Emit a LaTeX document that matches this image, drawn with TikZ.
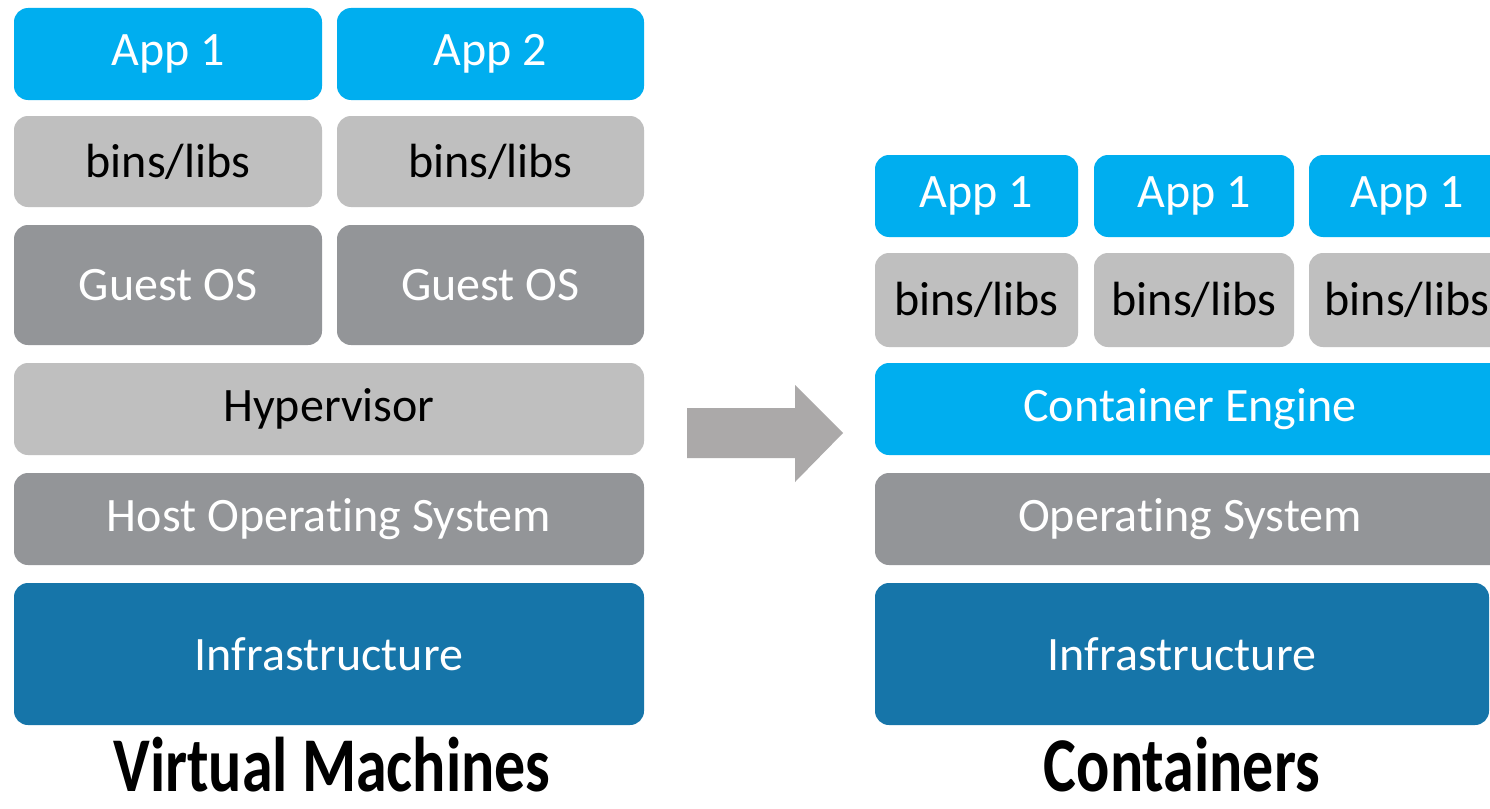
\documentclass[tikz,border=0pt]{standalone}
\usepackage{fontspec}
\setmainfont[RawFeature={-liga;-clig;-dlig;-calt}]{Carlito}
\usepackage{tikz}
\usetikzlibrary{positioning}

\definecolor{appblue}{RGB}{0,174,239}
\definecolor{infrablue}{RGB}{22,117,169}
\definecolor{libgray}{RGB}{191,191,191}
\definecolor{osgray}{RGB}{147,149,152}
\definecolor{arrowgray}{RGB}{171,169,169}

\begin{document}
\begin{tikzpicture}[x=1pt, y=-1pt,
    box/.style={rounded corners=14pt, inner sep=0pt, align=center,
      font=\fontsize{48}{56}\selectfont},
    app/.style={box, fill=appblue, text=white},
    lib/.style={box, fill=libgray, text=black},
    os/.style={box, fill=osgray, text=white},
    infra/.style={box, fill=infrablue, text=white},
    title/.style={font=\fontsize{62}{70}\selectfont\bfseries, inner sep=0pt, anchor=base}]
        \clip (0,0) rectangle (1490,808);
        \fill[white] (0,0) rectangle (1490,808);
        % virtual machines
        \begin{scope}
          \node[app, minimum width=308, minimum height=92] (app1) at (168,54) {App 1};
          \node[app, minimum width=307, minimum height=92] (app2) at (490.5,54) {App 2};
          \node[lib, minimum width=308, minimum height=91] (bins1) at (168,161.5) {bins/libs};
          \node[lib, minimum width=307, minimum height=91] (bins2) at (490.5,161.5) {bins/libs};
          \node[os, minimum width=308, minimum height=120] (guest1) at (168,285) {Guest OS};
          \node[os, minimum width=307, minimum height=120] (guest2) at (490.5,285) {Guest OS};
          \node[lib, minimum width=630, minimum height=92] (hyper) at (329,409) {Hypervisor};
          \node[os, minimum width=630, minimum height=92] (hostos) at (329,519) {Host Operating System};
          \node[infra, minimum width=630, minimum height=142] (infra) at (329,654) {Infrastructure};
          \node[title] (vmtitle) at (332,791) {\scalebox{1}[1.25]{Virtual Machines}};
        \end{scope}
        % arrow
        \fill[arrowgray] (687,408) -- (795,408) -- (795,385) -- (843,433)
          -- (795,482) -- (795,458) -- (687,458) -- cycle;
        % containers
        \begin{scope}
          \node[app, minimum width=203, minimum height=82] (capp1) at (976.5,196) {App 1};
          \node[app, minimum width=200, minimum height=82] (capp2) at (1194,196) {App 1};
          \node[app, minimum width=196, minimum height=82] (capp3) at (1407,196) {App 1};
          \node[lib, minimum width=203, minimum height=94] (cbins1) at (976.5,300) {bins/libs};
          \node[lib, minimum width=200, minimum height=94] (cbins2) at (1194,300) {bins/libs};
          \node[lib, minimum width=196, minimum height=94] (cbins3) at (1407,300) {bins/libs};
          \node[app, minimum width=630, minimum height=92] (engine) at (1190,409) {Container Engine};
          \node[os, minimum width=630, minimum height=92] (cos) at (1190,519) {Operating System};
          \node[infra, minimum width=614, minimum height=142] (cinfra) at (1182,654) {Infrastructure};
          \node[title] (ctitle) at (1182,791) {\scalebox{1}[1.25]{Containers}};
        \end{scope}
\end{tikzpicture}
\end{document}
